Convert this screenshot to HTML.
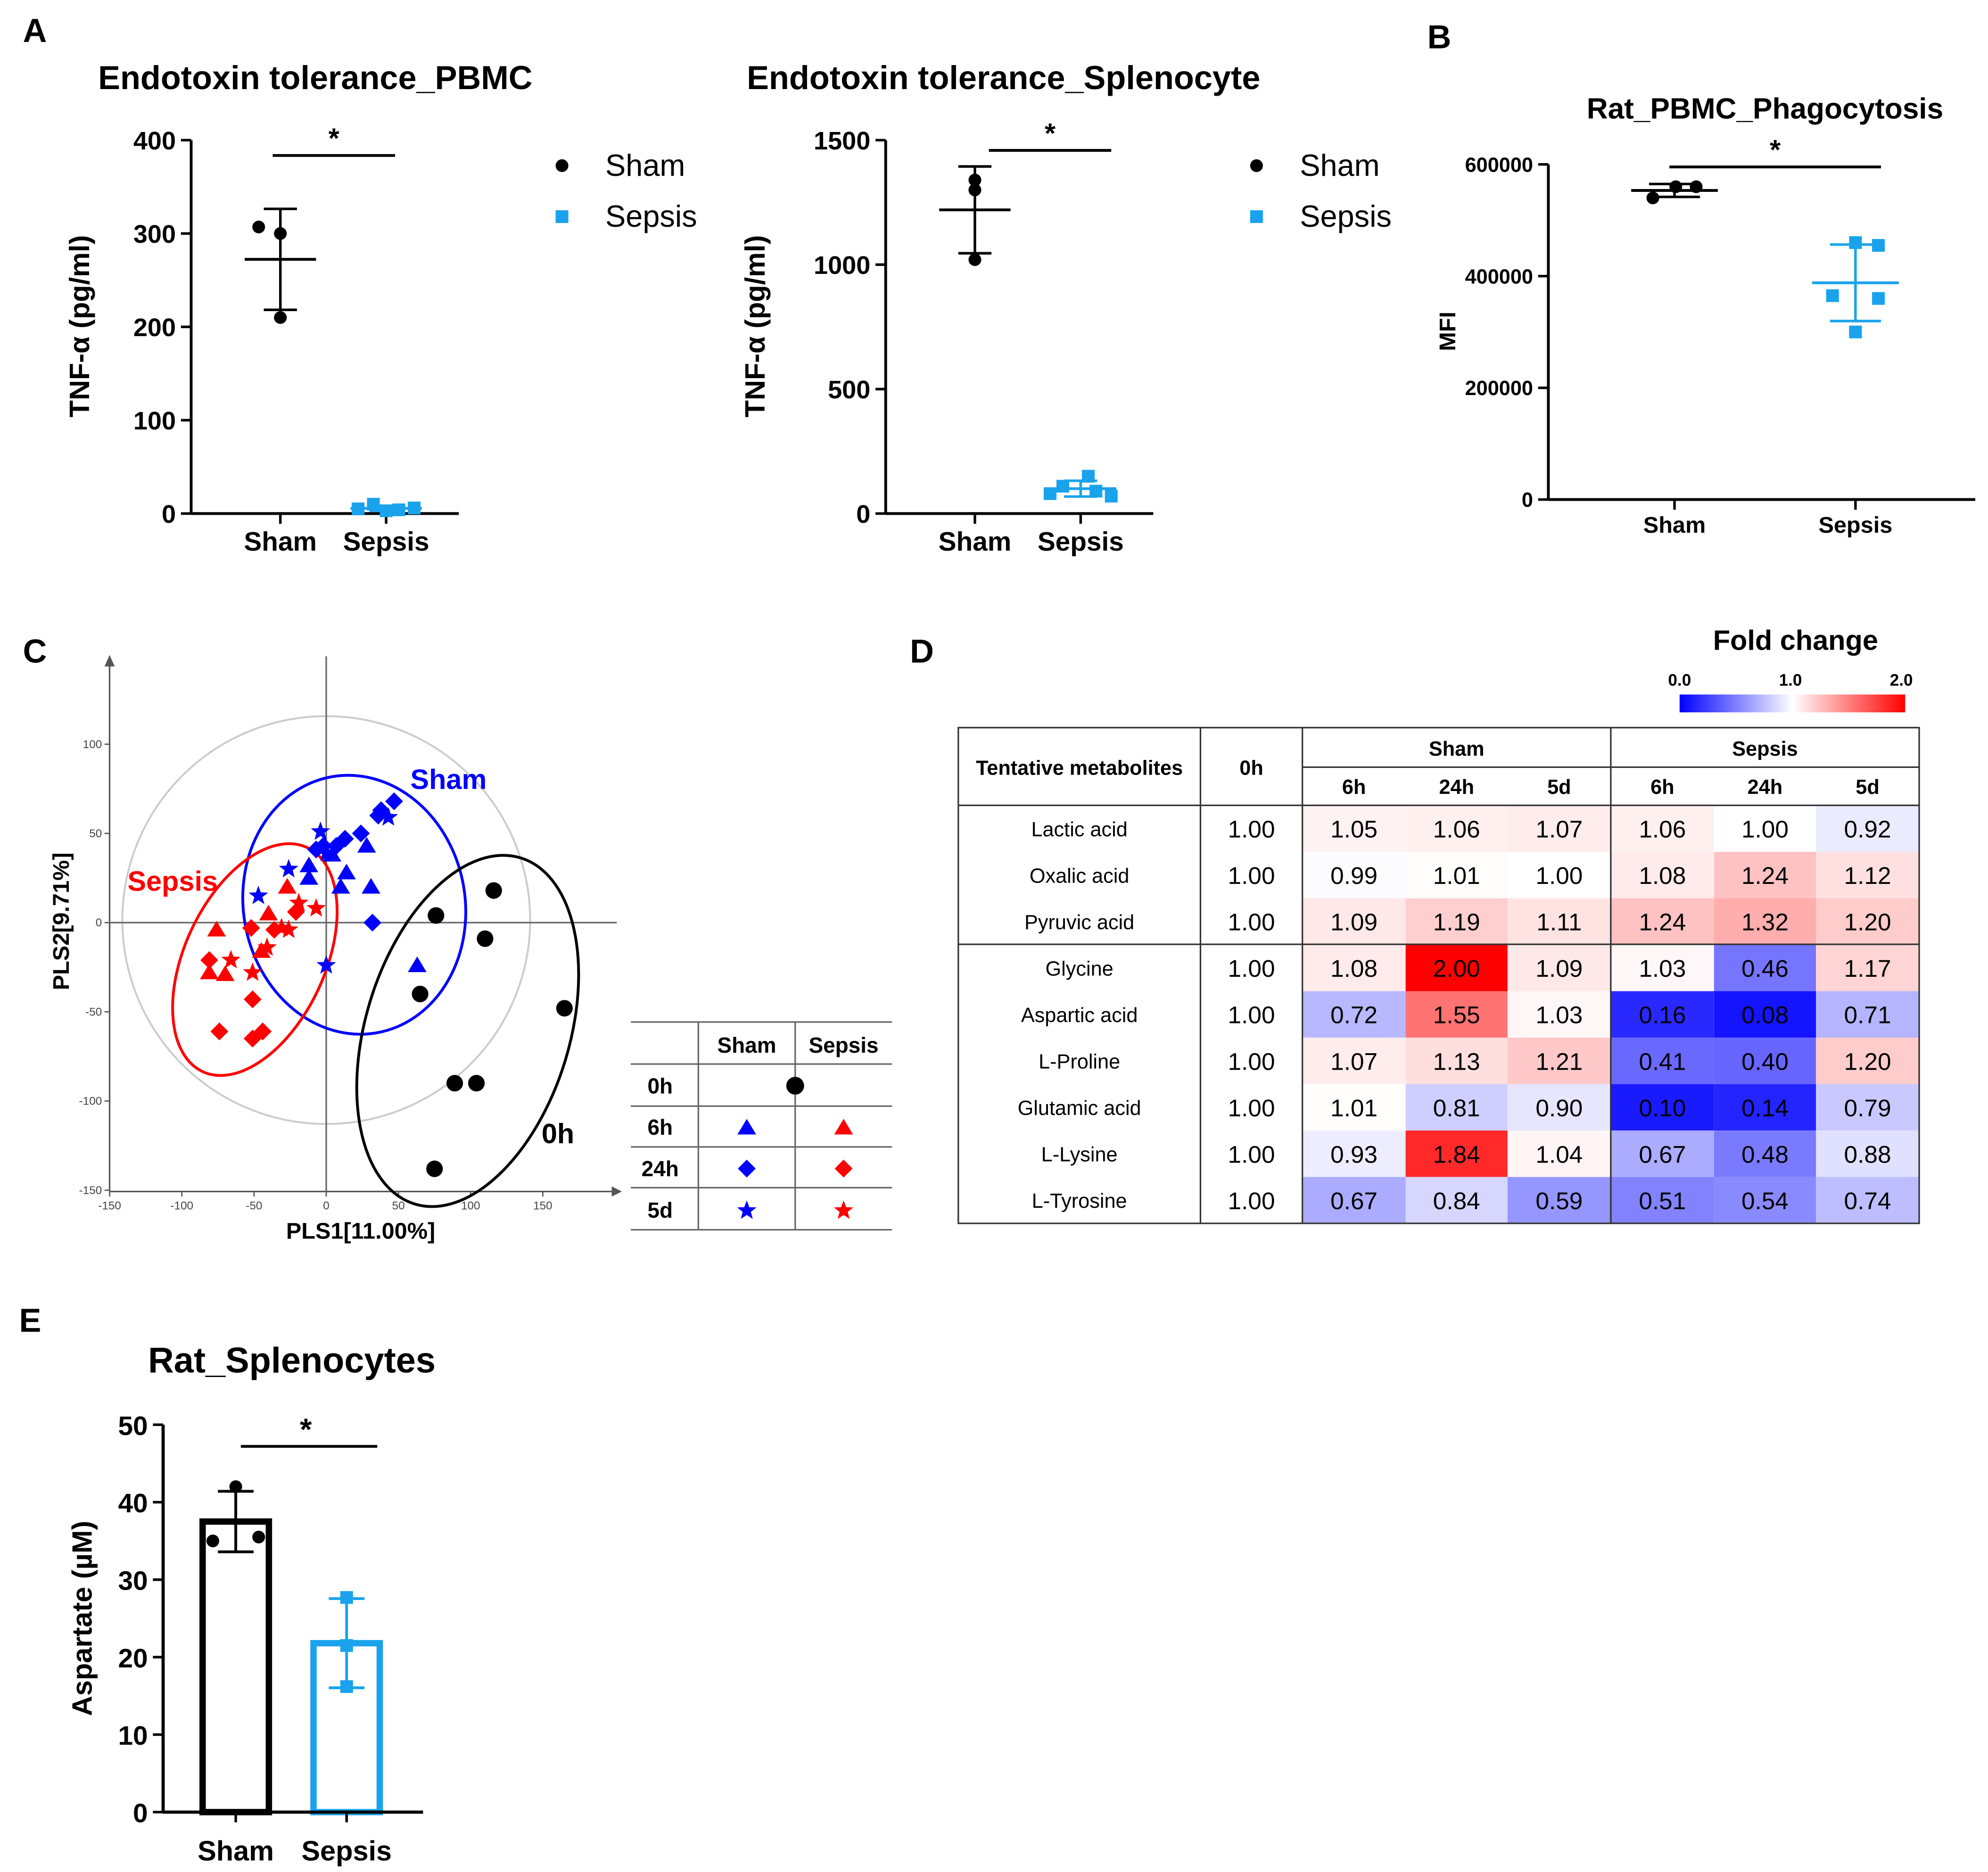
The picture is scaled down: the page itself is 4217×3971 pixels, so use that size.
<!DOCTYPE html>
<html><head><meta charset="utf-8"><style>
html,body{margin:0;padding:0;background:#fff;}
svg{display:block;font-family:"Liberation Sans",sans-serif;}
.nar{font-family:"Liberation Sans Narrow","Liberation Sans",sans-serif;}
</style></head><body>
<svg id="fig" width="4217" height="3971" viewBox="0 0 1560 1469" xmlns="http://www.w3.org/2000/svg">
<rect width="1560" height="1469" fill="#fff"/>
<g font-weight="bold" font-size="26">
<text x="18" y="33">A</text><text x="1120" y="38">B</text><text x="18" y="520">C</text><text x="714" y="520">D</text><text x="15" y="1045">E</text>
</g>
</svg>
<script>
// ---------- DATA ----------
const a1Sham=[307,300,210], a1Sepsis=[5,10,3,4,6];
const a1Ticks=[0,100,200,300,400];
const a2Sham=[1340,1300,1020], a2Sepsis=[150,110,80,90,70];
const a2Ticks=[0,500,1000,1500];
const bSham=[540000,560000,560000], bSepsis=[460000,455000,365000,360000,300000];
const bTicks=[0,200000,400000,600000];
const eSham=[42,35,35.5], eSepsis=[27.7,21.5,16.2];
const eTicks=[0,10,20,30,40,50];
const pcaXTicks=[-150,-100,-50,0,50,100,150];
const pcaYTicks=[-150,-100,-50,0,50,100];
const black0h=[[116,18],[76,4],[110,-9],[65,-40],[165,-48],[89,-90],[104,-90],[75,-138]];
const shamTri=[[28,43],[-12,32],[-12,25],[14,28],[10,20],[31,20],[63,-24],[4,38]];
const shamDia=[[47,68],[38,63],[36,60],[24,50],[13,47],[7,43],[-2,43],[-7,41],[32,0]];
const shamStar=[[-4,51],[43,59],[-26,30],[-47,15],[0,-24],[0,39]];
const sepTri=[[-27,20],[-40,5],[-76,-4],[-45,-16],[-81,-28],[-70,-29]];
const sepDia=[[-21,6],[-52,-3],[-36,-4],[-81,-21],[-51,-43],[-74,-61],[-51,-65],[-44,-61]];
const sepStar=[[-19,11],[-7,8],[-26,-4],[-41,-14],[-66,-21],[-51,-28],[-31,-3]];
const metabolites=["Lactic acid","Oxalic acid","Pyruvic acid","Glycine","Aspartic acid","L-Proline","Glutamic acid","L-Lysine","L-Tyrosine"];
const timeCols=["6h","24h","5d","6h","24h","5d"];
const fold0h=[1,1,1,1,1,1,1,1,1];
const foldVals=[
[1.05,1.06,1.07,1.06,1.00,0.92],
[0.99,1.01,1.00,1.08,1.24,1.12],
[1.09,1.19,1.11,1.24,1.32,1.20],
[1.08,2.00,1.09,1.03,0.46,1.17],
[0.72,1.55,1.03,0.16,0.08,0.71],
[1.07,1.13,1.21,0.41,0.40,1.20],
[1.01,0.81,0.90,0.10,0.14,0.79],
[0.93,1.84,1.04,0.67,0.48,0.88],
[0.67,0.84,0.59,0.51,0.54,0.74]];
// ---------- HELPERS ----------
const NS="http://www.w3.org/2000/svg";
const svg=document.getElementById('fig');
function el(tag,attrs,parent,txt){const e=document.createElementNS(NS,tag);for(const k in attrs)e.setAttribute(k,attrs[k]);if(txt!==undefined)e.textContent=txt;(parent||svg).appendChild(e);return e;}
function grp(name){const g=el('g',{});


return g;}
const BLUE="#1aa3ec";
function mean(a){return a.reduce((s,v)=>s+v,0)/a.length;}
function sd(a){const m=mean(a);return Math.sqrt(a.reduce((s,v)=>s+(v-m)*(v-m),0)/(a.length-1));}
function fmt(v){return v.toString();}

// ---------- Dot plot panel ----------
function dotPanel(o){
  const g=grp(o.name);
  const y=v=>o.y0-(v/o.max)*(o.y0-o.yTop);
  el('text',{x:o.titleX,y:o.titleY,'font-size':o.titleSize,'font-weight':'bold','text-anchor':o.titleAnchor||'start'},g,o.title);
  el('line',{x1:o.ax,y1:o.yTop,x2:o.ax,y2:o.y0,stroke:'#000','stroke-width':2.2},g);
  el('line',{x1:o.ax,y1:o.y0,x2:o.axEnd,y2:o.y0,stroke:'#000','stroke-width':2.2},g);
  o.ticks.forEach(t=>{
    el('line',{x1:o.ax-8,y1:y(t),x2:o.ax,y2:y(t),stroke:'#000','stroke-width':2},g);
    const tx=el('text',{x:o.ax-12,y:y(t)+o.tickSize*0.36,'font-size':o.tickSize,'font-weight':'bold','text-anchor':'end',class:o.tickClass||''},g,fmt(t));
    
    
  });
  [[o.xs,'Sham'],[o.xp,'Sepsis']].forEach(([x,l])=>{
    el('line',{x1:x,y1:o.y0,x2:x,y2:o.y0+8,stroke:'#000','stroke-width':2},g);
    const tx=el('text',{x:x,y:o.y0+o.catSize+8,'font-size':o.catSize,'font-weight':'bold','text-anchor':'middle',class:o.tickClass||''},g,l);
    
    
  });
  const yl=el('text',{x:0,y:0,'font-size':o.ylSize,'font-weight':'bold','text-anchor':'middle',transform:`translate(${o.ylX},${o.ylY}) rotate(-90)`},g,o.ylabel);
  
  
  function series(vals,x,color,shape,offs,nm){
    const m=mean(vals),s=sd(vals);
    el('line',{x1:x-o.mw,y1:y(m),x2:x+o.mw,y2:y(m),stroke:color,'stroke-width':2.2},g);
    el('line',{x1:x,y1:y(m-s),x2:x,y2:y(m+s),stroke:color,'stroke-width':2},g);
    el('line',{x1:x-o.cw,y1:y(m+s),x2:x+o.cw,y2:y(m+s),stroke:color,'stroke-width':2},g);
    el('line',{x1:x-o.cw,y1:y(m-s),x2:x+o.cw,y2:y(m-s),stroke:color,'stroke-width':2},g);
    vals.forEach((v,i)=>{
      let p;
      if(shape==='c'){p=el('circle',{cx:x+offs[i],cy:y(v),r:5,fill:color},g);}
      else {p=el('rect',{x:x+offs[i]-5,y:y(v)-5,width:10,height:10,fill:color},g);}
      
      
    });
  }
  series(o.sham,o.xs,'#000','c',o.offS,'sham');
  series(o.sep,o.xp,BLUE,'s',o.offP,'sepsis');
  el('line',{x1:o.sig[0],y1:o.sig[2],x2:o.sig[1],y2:o.sig[2],stroke:'#000','stroke-width':2.2},g);
  el('text',{x:(o.sig[0]+o.sig[1])/2,y:o.sig[2]-6,'font-size':22,'font-weight':'bold','text-anchor':'middle'},g,'*');
  if(o.leg){
    const lg=grp(o.name+'-legend');
    el('circle',{cx:o.leg[0],cy:o.leg[1],r:5,fill:'#000'},lg);
    el('text',{x:o.leg[0]+34,y:o.leg[1]+8,'font-size':24},lg,'Sham');
    el('rect',{x:o.leg[0]-5,y:o.leg[1]+35,width:10,height:10,fill:BLUE},lg);
    el('text',{x:o.leg[0]+34,y:o.leg[1]+48,'font-size':24},lg,'Sepsis');
  }
}
dotPanel({name:'panel-a-pbmc',title:'Endotoxin tolerance_PBMC',titleX:77,titleY:70,titleSize:26,ax:150,axEnd:360,yTop:110,y0:403,max:400,ticks:a1Ticks,tickSize:20,catSize:21,
 xs:220,xp:303,sham:a1Sham,sep:a1Sepsis,offS:[-17,0,0],offP:[-22,-10,0,10,22],mw:28,cw:13,ylabel:'TNF-α (pg/ml)',ylX:70,ylY:256,ylSize:22,sig:[214,310,122],leg:[441,130]});
dotPanel({name:'panel-a-splenocyte',title:'Endotoxin tolerance_Splenocyte',titleX:586,titleY:70,titleSize:26,ax:695,axEnd:905,yTop:110,y0:403,max:1500,ticks:a2Ticks,tickSize:20,catSize:21,
 xs:765,xp:848,sham:a2Sham,sep:a2Sepsis,offS:[0,0,0],offP:[6,-14,-24,12,24],mw:28,cw:13,ylabel:'TNF-α (pg/ml)',ylX:600,ylY:256,ylSize:22,sig:[776,872,118],leg:[986,130]});
dotPanel({name:'panel-b-phagocytosis',title:'Rat_PBMC_Phagocytosis',titleX:1385,titleY:93,titleSize:23,titleAnchor:'middle',ax:1215,axEnd:1550,yTop:129,y0:392,max:600000,ticks:bTicks,tickSize:16,catSize:18,tickClass:'nar',
 xs:1314,xp:1456,sham:bSham,sep:bSepsis,offS:[-17,1,17],offP:[0,18,-18,18,0],mw:34,cw:20,ylabel:'MFI',ylX:1142,ylY:260,ylSize:18,sig:[1310,1476,131]});

// ---------- Panel E bar chart ----------
(function(){
  const g=grp('panel-e-aspartate');
  const ax=128,y0=1422,yTop=1118,max=50;
  const y=v=>y0-(v/max)*(y0-yTop);
  el('text',{x:229,y:1077,'font-size':28,'font-weight':'bold','text-anchor':'middle'},g,'Rat_Splenocytes');
  [['Sham',eSham,185,'#000','c'],['Sepsis',eSepsis,272,BLUE,'s']].forEach(([l,vals,x,c,sh])=>{
    const m=mean(vals),s=sd(vals);
    const b=el('rect',{x:x-26,y:y(m),width:52,height:y0-y(m),fill:'#fff',stroke:c,'stroke-width':5},g);
    
    
    el('line',{x1:x,y1:y(m-s),x2:x,y2:y(m+s),stroke:c,'stroke-width':2.2},g);
    el('line',{x1:x-14,y1:y(m+s),x2:x+14,y2:y(m+s),stroke:c,'stroke-width':2.2},g);
    el('line',{x1:x-14,y1:y(m-s),x2:x+14,y2:y(m-s),stroke:c,'stroke-width':2.2},g);
    const offs=sh==='c'?[0,-18,18]:[0,0,0];
    vals.forEach((v,i)=>{let p;
      if(sh==='c')p=el('circle',{cx:x+offs[i],cy:y(v),r:5,fill:c},g);
      else p=el('rect',{x:x-5,y:y(v)-5,width:10,height:10,fill:c},g);
      
      });
    el('line',{x1:x,y1:y0,x2:x,y2:y0+8,stroke:'#000','stroke-width':2},g);
    el('text',{x:x,y:y0+38,'font-size':22,'font-weight':'bold','text-anchor':'middle'},g,l);
  });
  el('line',{x1:ax,y1:yTop,x2:ax,y2:y0,stroke:'#000','stroke-width':2.5},g);
  el('line',{x1:ax,y1:y0,x2:332,y2:y0,stroke:'#000','stroke-width':2.5},g);
  eTicks.forEach(t=>{el('line',{x1:ax-8,y1:y(t),x2:ax,y2:y(t),stroke:'#000','stroke-width':2},g);
    el('text',{x:ax-12,y:y(t)+8,'font-size':21,'font-weight':'bold','text-anchor':'end'},g,String(t));});
  el('text',{x:0,y:0,'font-size':22,'font-weight':'bold','text-anchor':'middle',transform:'translate(72,1270) rotate(-90)'},g,'Aspartate (µM)');
  el('line',{x1:189,y1:1135,x2:296,y2:1135,stroke:'#000','stroke-width':2.2},g);
  el('text',{x:240,y:1130,'font-size':24,'font-weight':'bold','text-anchor':'middle'},g,'*');
})();

// ---------- Panel C PLS-DA ----------
(function(){
  const g=grp('panel-c-plsda');
  const X=v=>256+v*1.133, Y=v=>724-v*1.4;
  el('circle',{cx:256,cy:722,r:160,fill:'none',stroke:'#ccc','stroke-width':1.5},g);
  el('line',{x1:86,y1:515,x2:86,y2:935,stroke:'#555','stroke-width':1.2},g);
  el('line',{x1:86,y1:935,x2:480,y2:935,stroke:'#555','stroke-width':1.2},g);
  el('path',{d:'M480,931 L488,935 L480,939Z',fill:'#555'},g);
  el('path',{d:'M82,523 L86,514 L90,523Z',fill:'#555'},g);
  el('line',{x1:256,y1:515,x2:256,y2:935,stroke:'#666','stroke-width':1.2},g);
  el('line',{x1:86,y1:724,x2:484,y2:724,stroke:'#666','stroke-width':1.2},g);
  pcaXTicks.forEach(t=>{el('line',{x1:X(t),y1:935,x2:X(t),y2:939,stroke:'#555'},g);
    el('text',{x:X(t),y:949,'font-size':9,'text-anchor':'middle',fill:'#444'},g,String(t));});
  pcaYTicks.forEach(t=>{el('line',{x1:82,y1:Y(t),x2:86,y2:Y(t),stroke:'#555'},g);
    el('text',{x:80,y:Y(t)+3,'font-size':9,'text-anchor':'end',fill:'#444'},g,String(t));});
  el('text',{x:283,y:972,'font-size':18,'font-weight':'bold','text-anchor':'middle'},g,'PLS1[11.00%]');
  el('text',{x:0,y:0,'font-size':18,'font-weight':'bold','text-anchor':'middle',transform:'translate(54,723) rotate(-90)'},g,'PLS2[9.71%]');
  el('ellipse',{cx:278,cy:710,rx:87,ry:102,fill:'none',stroke:'#0000ff','stroke-width':2.2,transform:'rotate(-10 278 710)'},g);
  el('ellipse',{cx:200,cy:753,rx:55,ry:97,fill:'none',stroke:'#ff0000','stroke-width':2.2,transform:'rotate(25 200 753)'},g);
  el('ellipse',{cx:367,cy:809,rx:80,ry:142,fill:'none',stroke:'#000','stroke-width':2.2,transform:'rotate(17 367 809)'},g);
  el('text',{x:322,y:619,'font-size':22,'font-weight':'bold',fill:'#0000ff'},g,'Sham');
  el('text',{x:100,y:699,'font-size':22,'font-weight':'bold',fill:'#ff0000'},g,'Sepsis');
  el('text',{x:425,y:897,'font-size':22,'font-weight':'bold'},g,'0h');
  function mk(shape,cx,cy,c,s){
    if(shape==='tri')return el('path',{d:`M${cx},${cy-s} L${cx+s*1.05},${cy+s*0.75} L${cx-s*1.05},${cy+s*0.75}Z`,fill:c},g);
    if(shape==='dia')return el('path',{d:`M${cx},${cy-s} L${cx+s},${cy} L${cx},${cy+s} L${cx-s},${cy}Z`,fill:c},g);
    if(shape==='star'){let d='';for(let i=0;i<10;i++){const r=i%2?s*0.42:s;const a=-Math.PI/2+i*Math.PI/5;d+=(i?'L':'M')+(cx+r*Math.cos(a)).toFixed(1)+','+(cy+r*Math.sin(a)).toFixed(1);}return el('path',{d:d+'Z',fill:c},g);}
    return el('circle',{cx:cx,cy:cy,r:s,fill:c},g);
  }
  [[black0h,'dot','#000',6.5,'0h-point'],[shamTri,'tri','#0000ff',7,'sham-6h-point'],[shamDia,'dia','#0000ff',7,'sham-24h-point'],[shamStar,'star','#0000ff',8,'sham-5d-point'],
   [sepTri,'tri','#ff0000',7,'sepsis-6h-point'],[sepDia,'dia','#ff0000',7,'sepsis-24h-point'],[sepStar,'star','#ff0000',8,'sepsis-5d-point']].forEach(([arr,sh,c,s,nm])=>{
    arr.forEach(p=>{const m=mk(sh,X(p[0]),Y(p[1]),c,s);
      
      });
  });
  const lg=grp('panel-c-legend-table');
  [802,835,868,900,932,965].forEach(yy=>el('line',{x1:495,y1:yy,x2:700,y2:yy,stroke:'#666','stroke-width':1.2},lg));
  [548,624].forEach(xx=>el('line',{x1:xx,y1:802,x2:xx,y2:965,stroke:'#666','stroke-width':1.2},lg));
  el('text',{x:586,y:826,'font-size':17,'font-weight':'bold','text-anchor':'middle'},lg,'Sham');
  el('text',{x:662,y:826,'font-size':17,'font-weight':'bold','text-anchor':'middle'},lg,'Sepsis');
  ['0h','6h','24h','5d'].forEach((l,i)=>el('text',{x:518,y:858+i*32.5,'font-size':17,'font-weight':'bold','text-anchor':'middle'},lg,l));
  el('circle',{cx:624,cy:852,r:7,fill:'#000'},lg);
  [['tri',885],['dia',917],['star',950]].forEach(([sh,yy])=>{
    const a=mk(sh,586,yy,'#0000ff',sh==='star'?8:7); lg.appendChild(a);
    const b=mk(sh,662,yy,'#ff0000',sh==='star'?8:7); lg.appendChild(b);
  });
})();

// ---------- Panel D heatmap ----------
(function(){
  const g=grp('panel-d-heatmap');
  const colX=[752,942,1022,1103,1183,1264,1345,1425,1506];
  const rowY0=632,rh=36.45;
  function col(v){
    let r,gg,b;
    if(v<=1){r=gg=Math.round(255*v);b=255;}else{r=255;gg=b=Math.round(255*(2-Math.min(v,2)));}
    return `rgb(${r},${gg},${b})`;
  }
  el('text',{x:1409,y:510,'font-size':22,'font-weight':'bold','text-anchor':'middle',class:'nar'},g,'Fold change');
  const defs=el('defs',{},g);
  const lgd=el('linearGradient',{id:'fc',x1:0,x2:1,y1:0,y2:0},defs);
  el('stop',{offset:'0','stop-color':'#0000ff'},lgd);el('stop',{offset:'0.5','stop-color':'#fff'},lgd);el('stop',{offset:'1','stop-color':'#ff0000'},lgd);
  const cb=el('rect',{x:1318,y:545,width:177,height:14,fill:'url(#fc)'},g);
  
  
  [['0.0',1318],['1.0',1405],['2.0',1492]].forEach(([t,x])=>el('text',{x:x,y:538,'font-size':13,'font-weight':'bold','text-anchor':'middle',class:'nar'},g,t));
  foldVals.forEach((row,i)=>{
    const yy=rowY0+i*rh;
    row.forEach((v,j)=>{
      const c=el('rect',{x:colX[j+2],y:yy,width:colX[j+3]-colX[j+2],height:rh,fill:col(v)},g);
      
      
      el('text',{x:(colX[j+2]+colX[j+3])/2,y:yy+rh/2+7,'font-size':19,'text-anchor':'middle',class:'nar'},g,v.toFixed(2));
    });
    el('text',{x:847,y:yy+rh/2+6,'font-size':16,'text-anchor':'middle',class:'nar'},g,metabolites[i]);
    el('text',{x:982,y:yy+rh/2+7,'font-size':19,'text-anchor':'middle',class:'nar'},g,fold0h[i].toFixed(2));
  });
  const ln={stroke:'#333','stroke-width':1.2};
  el('rect',{x:752,y:571,width:754,height:389,fill:'none',stroke:'#333','stroke-width':1.2},g);
  el('line',Object.assign({x1:752,y1:632,x2:1506,y2:632},ln),g);
  el('line',Object.assign({x1:1022,y1:602,x2:1506,y2:602},ln),g);
  el('line',Object.assign({x1:752,y1:741,x2:1506,y2:741},ln),g);
  [942,1022,1264].forEach(x=>el('line',Object.assign({x1:x,y1:571,x2:x,y2:960},ln),g));
  el('text',{x:847,y:608,'font-size':16,'font-weight':'bold','text-anchor':'middle',class:'nar'},g,'Tentative metabolites');
  el('text',{x:982,y:608,'font-size':16,'font-weight':'bold','text-anchor':'middle',class:'nar'},g,'0h');
  el('text',{x:1143,y:593,'font-size':16,'font-weight':'bold','text-anchor':'middle',class:'nar'},g,'Sham');
  el('text',{x:1385,y:593,'font-size':16,'font-weight':'bold','text-anchor':'middle',class:'nar'},g,'Sepsis');
  timeCols.forEach((t,j)=>el('text',{x:(colX[j+2]+colX[j+3])/2,y:623,'font-size':16,'font-weight':'bold','text-anchor':'middle',class:'nar'},g,t));
})();
</script>
</body></html>
